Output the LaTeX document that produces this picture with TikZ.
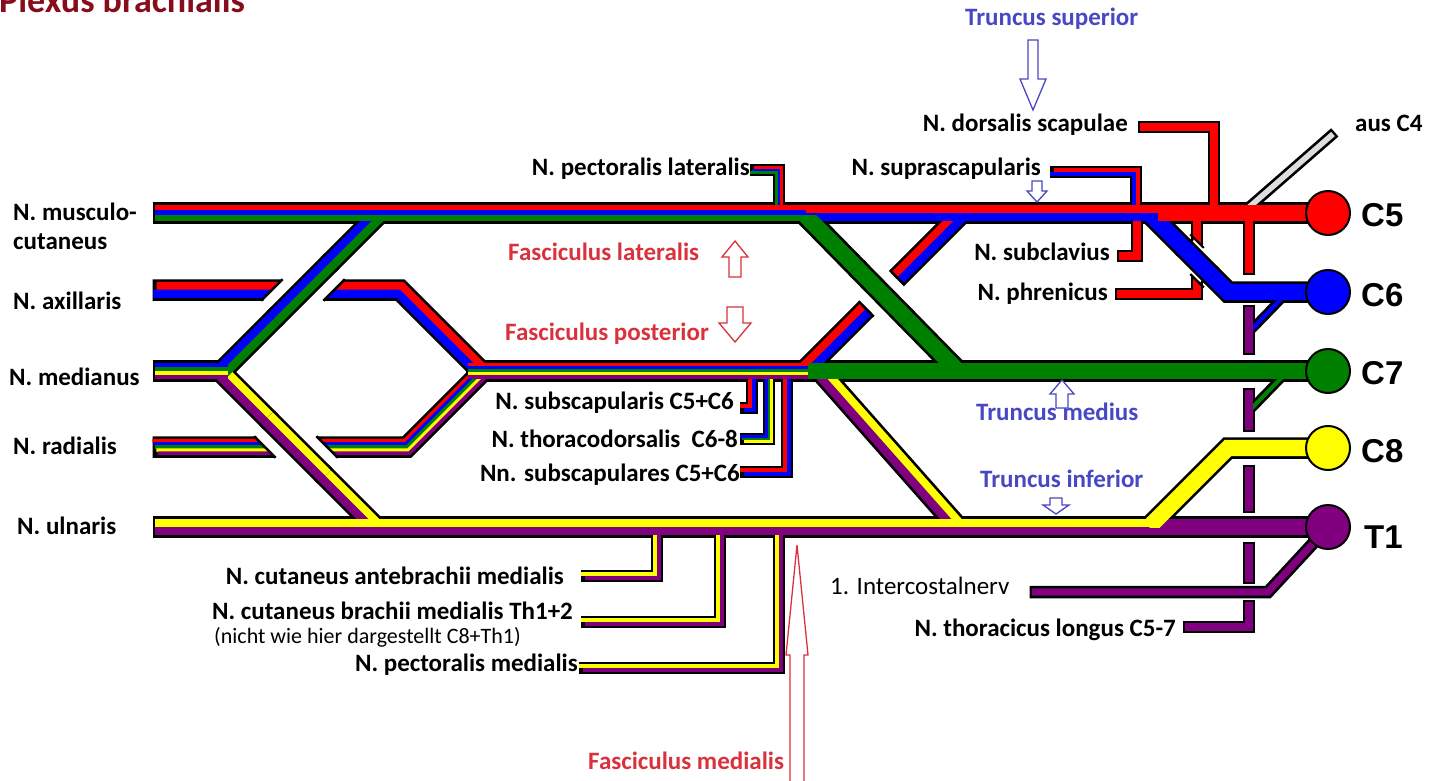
\documentclass[tikz,border=0pt]{standalone}
\usepackage{fontspec}
\setmainfont{Carlito}
\newfontfamily\arialfont{Liberation Sans}
\definecolor{nred}{RGB}{255,0,0}
\definecolor{nblue}{RGB}{0,0,255}
\definecolor{ngreen}{RGB}{0,128,0}
\definecolor{nyellow}{RGB}{255,255,0}
\definecolor{npurple}{RGB}{128,0,128}
\definecolor{ngray}{RGB}{222,222,222}
\definecolor{trunccol}{RGB}{72,72,196}
\definecolor{fasccol}{RGB}{218,50,60}
\definecolor{titlecol}{RGB}{135,12,28}

\def\outext{-2.4pt}
\newcommand\cabOutline[7]{%
  \begin{scope}
    \clip (-60,#6) rectangle (1500,#7);
    \draw[line width=#1pt+6pt, black, shorten <=\outext, shorten >=\outext] #5;
  \end{scope}}
\newcommand\cabStripes[7]{%
  \begin{scope}
    \clip (-60,#6) rectangle (1500,#7);
    \foreach \stc [count=\sk] in {#4}{\xdef\ncol{\sk}}%
    \pgfmathsetmacro\sws{#1/\ncol}%
    \foreach \stc [count=\sk] in {#4}{%
      \pgfmathsetmacro\soff{(\sk-0.5)*\sws-#1/2}%
      \draw[line width=\sws pt+0.6pt, color=\stc,
            shift={({(#2)*(\soff)},{(#3)*(\soff)})}] #5;
    }%
  \end{scope}}

\newcommand\allcables{%
  % branch nerves
  \cab{6.5}{-1}{1}{nred,nblue,ngreen}{(752,170)--(779,170)--(779,208)}{0}{800}%
  \cab{6.5}{-1}{1}{nred,nblue}{(1052,172)--(1136,172)--(1136,208)}{0}{800}%
  \cab{6.5}{-1}{1}{nred}{(1140,127)--(1214,127)--(1214,208)}{0}{800}%
  \cab{6.5}{0}{1}{nred}{(1137,218)--(1137,256)--(1119,256)}{0}{800}%
  \cab{6.5}{0}{1}{nred}{(1197,218)--(1197,294)--(1117,294)}{0}{800}%
  \cab{5}{0}{1}{ngray}{(1247,209)--(1333,134)}{0}{800}%
  \cab{6.5}{0}{1}{nred}{(1249,218)--(1249,273)}{0}{800}%
  \cab{3.5}{0}{1}{nblue}{(1284,296)--(1250,331)}{0}{800}%
  \cab{3.5}{0}{1}{ngreen}{(1284,375)--(1250,410)}{0}{800}%
  \cab{6.5}{0}{1}{npurple}{(1249,307)--(1249,353)}{0}{800}%
  \cab{6.5}{0}{1}{npurple}{(1249,390)--(1249,430)}{0}{800}%
  \cab{6.5}{0}{1}{npurple}{(1249,467)--(1249,511)}{0}{800}%
  \cab{6.5}{0}{1}{npurple}{(1249,544)--(1249,582)}{0}{800}%
  \cab{6.5}{0}{1}{npurple}{(1249,602)--(1249,627)--(1185,627)}{0}{800}%
  \cab{6.5}{0}{1}{npurple}{(1032,592)--(1268,592)--(1318,538)}{0}{800}%
  \cab{6.5}{-1}{-1}{nblue,nred}{(752,376)--(752,408)--(742,408)}{0}{800}%
  \cab{6.5}{-1}{-1}{nyellow,ngreen,nblue}{(769,376)--(769,439)--(742,439)}{0}{800}%
  \cab{6.5}{-1}{-1}{nblue,nred}{(787,376)--(787,472)--(742,472)}{0}{800}%
  \cab{6.5}{-1}{-1}{npurple,nyellow}{(657,530)--(657,576)--(583,576)}{0}{800}%
  \cab{6.5}{-1}{-1}{npurple,nyellow}{(720,530)--(720,622)--(583,622)}{0}{800}%
  \cab{6.5}{-1}{-1}{npurple,nyellow}{(779,530)--(779,668)--(581,668)}{0}{800}%
  % trunks, divisions, cords
  \cab{15.5}{0}{1}{nblue}{(1149,213)--(1228,292)--(1308,292)}{0}{800}%
  \cab{15.5}{0.707}{0.707}{nred,nblue}{(804,371)--(962,213)}{214}{378}%
  \cab{15.5}{-0.749}{0.663}{nyellow,npurple}{(820,371)--(958,527)}{366}{533}%
  \cab{15.5}{-0.414}{1}{nred,nblue}{(155,290)--(400,290)--(481,371)}{0}{375}%
  \cab{15.5}{0.414}{1}{nred,nblue,ngreen,nyellow,npurple}{(155,447)--(407,447)--(483,371)}{367}{800}%
  \cab{15.5}{-0.707}{0.707}{nyellow,npurple}{(220,371)--(376,527)}{0}{533}%
  \cab{15.5}{0.707}{0.707}{nblue,ngreen}{(222,371)--(380,213)}{215}{800}%
  \cab{15.5}{0}{1}{nblue,ngreen,nyellow,npurple}{(155,371)--(228,371)}{0}{800}%
  \cab{15.5}{0}{1}{nred,nblue,ngreen,nyellow,npurple}{(468,371)--(812,371)}{0}{800}%
  \cab{15.5}{0}{1}{ngreen}{(808,371)--(1308,371)}{0}{800}%
  \cab{15.5}{0}{1}{nyellow,npurple}{(155,527)--(1158,527)}{0}{800}%
  \cab{15.5}{0}{1}{npurple}{(1150,527)--(1308,527)}{0}{800}%
  \cab{15.5}{0}{1}{nyellow}{(1149,527)--(1228,448)--(1308,448)}{0}{527}%
  \cab{15.5}{0}{1}{nred,nblue,ngreen}{(155,213)--(808,213)}{0}{800}%
  \cab{15.5}{0}{1}{nred,nblue}{(806,213)--(1162,213)}{0}{800}%
  \cab{15.5}{0}{1}{nred}{(1158,213)--(1308,213)}{0}{800}%
  \cab{15.5}{0}{1}{ngreen}{(803,213)--(958,371)}{215}{800}%
}

\tikzset{
  lab/.style={inner sep=0pt, font=\fontsize{25}{30}\selectfont\bfseries},
  labr/.style={inner sep=0pt, font=\fontsize{25}{30}\selectfont},
  tlab/.style={lab, text=trunccol},
  flab/.style={lab, text=fasccol},
  clab/.style={inner sep=0pt, anchor=west, font=\arialfont\fontsize{33}{36}\selectfont\bfseries},
  tarrow/.style={draw=trunccol, fill=white, line width=1.3pt},
  farrow/.style={draw=fasccol, fill=white, line width=1.3pt},
  ball/.style={circle, draw=black, line width=2pt, minimum size=44pt, inner sep=0pt},
  halo/.style={white, line width=#1},
  cutedge/.style={black, line width=2.6pt},
}

\begin{document}
\begin{tikzpicture}[x=1pt,y=-1pt, line cap=butt, line join=miter]
\useasboundingbox (0,0) rectangle (1439,781);
\fill[white] (0,0) rectangle (1439,781);

% all cables: outlines first, then coloured stripes
\let\cab\cabOutline \allcables
\let\cab\cabStripes \allcables

% crossings (gaps in the lower cable)
\def\outext{0pt}
\draw[halo=44pt] (278,315) -- (328,265);
\draw[cutedge] (282.65,279.25) -- (261.15,300.75);
\draw[cutedge] (344.85,279.25) -- (323.35,300.75);
\cabOutline{15.5}{0.707}{0.707}{nblue,ngreen}{(274,319)--(332,261)}{0}{800}
\cabStripes{15.5}{0.707}{0.707}{nblue,ngreen}{(274,319)--(332,261)}{0}{800}

\draw[halo=44pt] (271,422) -- (321,472);
\draw[cutedge] (254.15,436.25) -- (275.65,457.75);
\draw[cutedge] (316.35,436.25) -- (337.85,457.75);
\cabOutline{15.5}{-0.707}{0.707}{nyellow,npurple}{(267,418)--(325,476)}{0}{800}
\cabStripes{15.5}{-0.707}{0.707}{nyellow,npurple}{(267,418)--(325,476)}{0}{800}

\draw[halo=44pt] (859.0,270.1) -- (904.6,316.5);
\draw[cutedge] (889.7,270.1) -- (904.8,285.4);
\draw[cutedge] (858.6,301.2) -- (873.7,316.6);
\cabOutline{15.5}{0}{1}{ngreen}{(856.2,267.3)--(907.4,319.4)}{0}{800}
\cabStripes{15.5}{0}{1}{ngreen}{(856.2,267.3)--(907.4,319.4)}{0}{800}

\draw[halo=28pt] (1185,249) -- (1209,273);
\draw[cutedge, line width=2.2pt] (1190.25,234.45) -- (1203.75,247.95);
\draw[cutedge, line width=2.2pt] (1190.25,274.05) -- (1203.75,287.55);
\cabOutline{15.5}{0}{1}{nblue}{(1182,246)--(1212,276)}{0}{800}
\cabStripes{15.5}{0}{1}{nblue}{(1182,246)--(1212,276)}{0}{800}

% root balls
\node[ball, fill=nred]    (c5) at (1328,213) {};
\node[ball, fill=nblue]   (c6) at (1328,292) {};
\node[ball, fill=ngreen]  (c7) at (1328,371) {};
\node[ball, fill=nyellow] (c8) at (1328,448) {};
\node[ball, fill=npurple] (t1) at (1328,527) {};
\node[clab] (lc5) at (1361,215) {C5};
\node[clab] (lc6) at (1361,295) {C6};
\node[clab] (lc7) at (1361,373) {C7};
\node[clab] (lc8) at (1361,451) {C8};
\node[clab] (lt1) at (1364,537) {T1};

% title
\node[anchor=base west, inner sep=0pt, font=\fontsize{36}{40}\selectfont\bfseries, text=titlecol] (title) at (-1,13) {Plexus brachialis};

% left labels
\node[lab, anchor=mid west] (mus1) at (13,218) {N. musculo-};
\node[lab, anchor=mid west] (mus2) at (13,247) {cutaneus};
\node[lab, anchor=mid west] (axi) at (13,307) {N. axillaris};
\node[lab, anchor=mid west] (med) at (9,383) {N. medianus};
\node[lab, anchor=mid west] (rad) at (13,452) {N. radialis};
\node[lab, anchor=mid west] (uln) at (17,532) {N. ulnaris};

% branch labels
\node[lab, anchor=mid east] (pectlat) at (750,173) {N. pectoralis lateralis};
\node[lab, anchor=mid east] (supra) at (1041,173) {N. suprascapularis};
\node[lab, anchor=mid east] (dors) at (1128,129) {N. dorsalis scapulae};
\node[lab, anchor=mid east] (subcl) at (1110,258) {N. subclavius};
\node[lab, anchor=mid east] (phren) at (1108,298) {N. phrenicus};
\node[lab, anchor=mid west] (ausc4) at (1355,129) {aus C4};
\node[lab, anchor=mid east] (subsc) at (734,407) {N. subscapularis C5+C6};
\node[lab, anchor=mid east] (thdors) at (738,445) {N. thoracodorsalis\hspace{0.45em}C6-8};
\node[lab, anchor=mid east] (subscs) at (740,479) {Nn. subscapulares C5+C6};
\node[lab, anchor=mid east] (cutab) at (564,582) {N. cutaneus antebrachii medialis};
\node[lab, anchor=mid east] (cutbr) at (573,617) {N. cutaneus brachii medialis Th1+2};
\node[inner sep=0pt, font=\fontsize{22}{26}\selectfont, anchor=mid west] (nicht) at (214,641) {(nicht wie hier dargestellt C8+Th1)};
\node[lab, anchor=mid east] (pectmed) at (578,669) {N. pectoralis medialis};
\node[labr, anchor=mid west] (icn) at (830,592) {1. Intercostalnerv};
\node[lab, anchor=mid east] (thlong) at (1176,634) {N. thoracicus longus C5-7};

% trunk / cord labels
\node[tlab, anchor=mid west] (tsup) at (965,23) {Truncus superior};
\node[tlab, anchor=mid west] (tmed) at (976,418) {Truncus medius};
\node[tlab, anchor=mid west] (tinf) at (980,485) {Truncus inferior};
\node[flab, anchor=mid west] (flat) at (508,258) {Fasciculus lateralis};
\node[flab, anchor=mid west] (fpost) at (505,338) {Fasciculus posterior};
\node[flab, anchor=mid west] (fmed) at (588,767) {Fasciculus medialis};

% hollow arrows
\draw[tarrow] (1028,40) -- (1038,40) -- (1038,79) -- (1046,79) -- (1033,110) -- (1020,79) -- (1028,79) -- cycle;
\draw[tarrow] (1032,181) -- (1042,181) -- (1042,191) -- (1047,191) -- (1037,202) -- (1027,191) -- (1032,191) -- cycle;
\draw[tarrow] (1062,380) -- (1074,394) -- (1068,394) -- (1068,408) -- (1056,408) -- (1056,394) -- (1050,394) -- cycle;
\draw[tarrow] (1050,498) -- (1062,498) -- (1062,505) -- (1069,505) -- (1056,514) -- (1043,505) -- (1050,505) -- cycle;
\draw[farrow] (735,241) -- (748,257) -- (741,257) -- (741,277) -- (729,277) -- (729,257) -- (722,257) -- cycle;
\draw[farrow] (727,307) -- (743,307) -- (743,323) -- (751,323) -- (735,342) -- (719,323) -- (727,323) -- cycle;
\draw[farrow] (797,545) -- (808,655) -- (804,655) -- (804,790) -- (790,790) -- (790,655) -- (786,655) -- cycle;
\end{tikzpicture}
\end{document}
